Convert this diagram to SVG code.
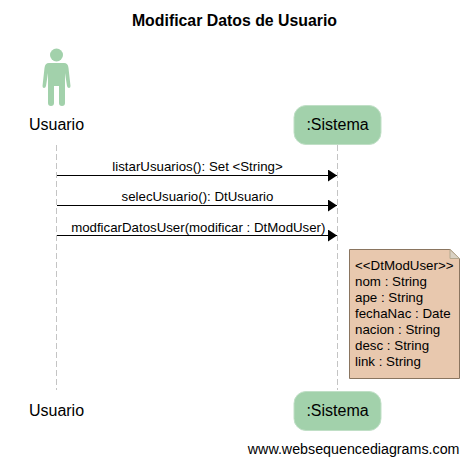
<svg xmlns="http://www.w3.org/2000/svg" width="469" height="464" viewBox="0 0 469 464">
<style>
text{font-family:"Liberation Sans",Arial,sans-serif;fill:#000}
.life{stroke:#c4c4c4;stroke-width:1;stroke-dasharray:6,3;fill:none}
.msg{stroke:#000;stroke-width:1;fill:none;marker-end:url(#arr)}
.m{font-size:13.27px;text-anchor:middle}
.a{font-size:16px;text-anchor:middle}
.box{fill:#a2d1ab;stroke:#c0dfc6;stroke-width:1}
.n{font-size:13.33px}
.act{fill:#a2d1ab}
</style>
<defs>
<marker id="arr" markerUnits="userSpaceOnUse" markerWidth="10" markerHeight="12" refX="9" refY="6" orient="auto"><path d="M0 0L9 6L0 12Z" fill="#000"/></marker>
</defs>
<rect width="469" height="464" fill="#fff"/>
<text id="title" x="234.500" y="26" font-size="15.85" font-weight="bold" text-anchor="middle">Modificar Datos de Usuario</text>
<g id="connectors">
<path class="life" d="M56.500 145V390"/>
<path class="life" d="M337.500 145V390"/>
<path class="msg" d="M57 175.500H337"/>
<path class="msg" d="M57 205.500H337"/>
<path class="msg" d="M57 235.500H337"/>
</g>
<text class="m" x="197.500" y="171">listarUsuarios(): Set &lt;String&gt;</text>
<text class="m" x="197.500" y="201">selecUsuario(): DtUsuario</text>
<text class="m" x="198.300" y="232">modficarDatosUser(modificar : DtModUser)</text>
<g id="actor-top">
<circle class="act" cx="56.500" cy="55" r="6.500"/>
<path class="act" d="M49 63H64Q68 63 68.500 68L70.500 86Q70.500 88 69 88Q67.500 88 67 86L65 73V103Q65 106 62 106Q59 106 59 103V86H54V103Q54 106 51 106Q48 106 48 103V73L46 86Q45.500 88 44 88Q42.500 88 42.500 86L44.500 68Q45 63 49 63Z"/>
<text class="a" x="56.500" y="130">Usuario</text>
</g>
<g id="sistema-top">
<rect class="box" x="294" y="105.500" width="87" height="39" rx="12"/>
<text class="a" x="337.500" y="130">:Sistema</text>
</g>
<g id="actor-bottom">
<text class="a" x="56.500" y="416">Usuario</text>
</g>
<g id="sistema-bottom">
<rect class="box" x="294" y="391.500" width="87" height="39" rx="12"/>
<text class="a" x="337.500" y="416">:Sistema</text>
</g>
<g id="note">
<path d="M349.500 249.500H450L459.500 258.500V378.500H349.500Z" fill="#e8c8ae" stroke="#8a7560"/>
<path d="M450 249.500V258.500H459.500Z" fill="#d9d2c4" stroke="#b5a88f"/>
<text class="n" x="355" y="270">&lt;&lt;DtModUser&gt;&gt;</text>
<text class="n" x="355" y="286">nom : String</text>
<text class="n" x="355" y="302">ape : String</text>
<text class="n" x="355" y="318">fechaNac : Date</text>
<text class="n" x="355" y="334">nacion : String</text>
<text class="n" x="355" y="350">desc : String</text>
<text class="n" x="355" y="366">link : String</text>
</g>
<text id="watermark" x="459.500" y="454" font-size="14.27" text-anchor="end">www.websequencediagrams.com</text>
</svg>
